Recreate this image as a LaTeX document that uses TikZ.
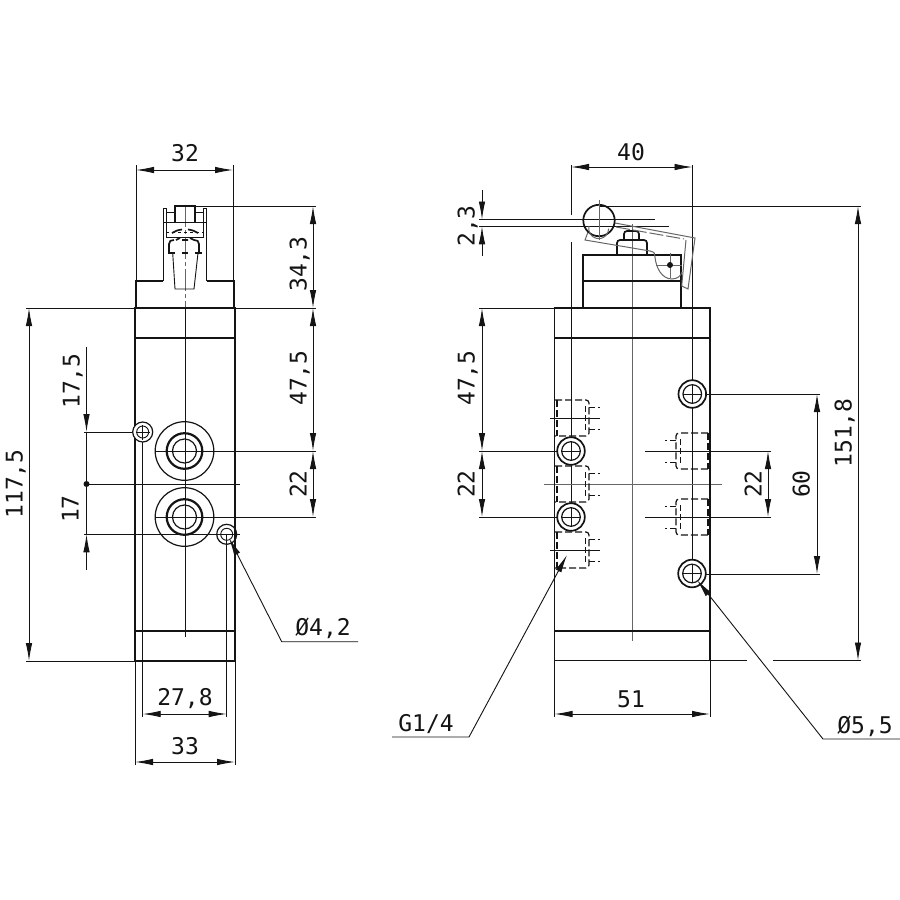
\documentclass[tikz,border=0pt]{standalone}
\usepackage{fontspec}
\setmainfont{DejaVu Sans Mono}
\usetikzlibrary{arrows.meta}
\definecolor{ink}{gray}{0.08}
\definecolor{cl}{gray}{0.4}
\tikzset{
  heavy/.style={draw=ink,line width=1.7pt},
  medium/.style={draw=ink,line width=1.2pt},
  fine/.style={draw=ink,line width=0.9pt},
  faint/.style={draw=cl,line width=1pt},
  centre/.style={draw=cl,line width=1pt},
  hid/.style={draw=ink,line width=1.2pt,dash pattern=on 7pt off 3pt},
  hidthin/.style={draw=ink,line width=0.9pt,dash pattern=on 6pt off 3pt},
  both/.style={draw=ink,line width=0.9pt,{Latex[length=18pt,width=6.5pt]}-{Latex[length=18pt,width=6.5pt]}},
  tip/.style={draw=ink,line width=0.9pt,-{Latex[length=18pt,width=6.5pt]}},
  lab/.style={font=\fontsize{23}{23}\selectfont,text=ink,inner sep=0pt,text height=17pt,text depth=0pt,anchor=center},
  vlab/.style={lab,rotate=90}
}
\newcommand{\portL}[1]{
  \draw[hid,rounded corners=3pt] (555,#1-18) -- (589,#1-18) -- (589,#1+18) -- (555,#1+18);
  \draw[hidthin] (585,#1-12) -- (585,#1+12);
  \draw[hidthin] (589,#1-11) -- (600,#1-11) (589,#1+11) -- (600,#1+11);
  \draw[hid] (557,#1-18) -- (557,#1+18);
}
\newcommand{\portR}[1]{
  \draw[hid,rounded corners=3pt] (708,#1-18) -- (676,#1-18) -- (676,#1+18) -- (708,#1+18);
  \draw[hidthin] (680,#1-12) -- (680,#1+12);
  \draw[hidthin] (676,#1-11) -- (665,#1-11) (676,#1+11) -- (665,#1+11);
  \draw[hid] (708,#1-18) -- (708,#1+18);
}
\begin{document}
\begin{tikzpicture}[x=1pt,y=-1pt]
\useasboundingbox (0,0) rectangle (900,900);
\fill[white] (0,0) rectangle (900,900);

% ---------- LEFT VIEW ----------
\draw[fine] (136,165) -- (136,281) (233,165) -- (233,281);
\draw[fine] (195,206) -- (316,206);
\draw[fine] (26,308) -- (316,308);
\draw[fine] (26,661) -- (235,661);
\draw[fine] (156,451) -- (316,451) (156,517) -- (316,517);
\draw[fine] (84,432) -- (135,432);
\draw[fine] (84,534.3) -- (240,534.3);
\draw[fine] (142.7,432) -- (142.7,717);
\draw[fine] (226.7,534.3) -- (226.7,717);
\draw[fine] (135,661) -- (135,765) (235,661) -- (235,765);
\draw[fine] (86.5,484) -- (240,484);
\draw[centre,dash pattern=on 22pt off 3pt on 4pt off 3pt] (185,205) -- (185,308);
\draw[fine] (185,308) -- (185,637);
% body
\draw[heavy] (135,661) -- (135,308) -- (235,308) -- (235,661) -- cycle;
\draw[medium] (135,338) -- (235,338) (135,631) -- (235,631);
\draw[heavy] (136,308) -- (136,281) -- (163,281);
\draw[heavy] (234,308) -- (234,281) -- (206.7,281);
\draw[fine] (163,281) -- (163,208) -- (166,208) -- (166,237);
\draw[fine] (206.7,281) -- (206.7,208) -- (203.5,208) -- (203.5,237);
% actuator
\draw[heavy] (175,223) -- (175,206) -- (195,206) -- (195,223);
\draw[fine] (166,212) -- (175,212) (195,212) -- (203.5,212);
\draw[fine] (163,222.5) -- (206.7,222.5);
\draw[fine] (166,237) -- (203.5,237);
\draw[fine] (172.7,253) -- (175,289) -- (194,289) -- (198,253);
\draw[heavy,dash pattern=on 3pt off 3pt] (166,232.5) -- (204,232.5);
\draw[heavy] (172,233) .. controls (175,231) and (178,230) .. (182,229.5);
\draw[heavy] (198,233) .. controls (195,231) and (192,230) .. (188,229.5);
\draw[heavy] (169,253) -- (169,244) .. controls (169,241) and (171,240) .. (174,240);
\draw[heavy] (199,253) -- (199,244) .. controls (199,241) and (197,240) .. (194,240);
\draw[heavy] (176,240) -- (180,238) (194,240) -- (190,238) (182,240) -- (188,240);
\draw[heavy] (168,253) -- (175,253) (182,253) -- (188,253) (195,253) -- (202,253);
% holes
\draw[medium,fill=white] (142.7,432) circle (10);
\draw[fine] (142.7,432) circle (6);
\draw[fine] (136,432) -- (150,432);
\draw[fine] (142.7,425) -- (142.7,440);
\draw[medium] (226.7,534.3) circle (10);
\draw[fine] (226.7,534.3) circle (6);
\foreach \yy in {451,517}{
  \draw[medium] (184.5,\yy) circle (29.3);
  \draw[heavy,line width=2.2pt] (184.5,\yy) circle (17.8);
  \draw[medium] (184.5,\yy) circle (12);
}
% dimensions
\draw[both] (136,170) -- (233,170);
\node[lab] (t32) at (185,153) {32};
\draw[both] (313,206) -- (313,308);
\node[vlab] (t343) at (298,264) {34,3};
\draw[both] (313,308) -- (313,451);
\node[vlab] (t475a) at (298,378) {47,5};
\draw[both] (313,451) -- (313,517);
\node[vlab] (t22a) at (298,484) {22};
\draw[both] (29,308) -- (29,661);
\node[vlab] (t1175) at (14,484) {117,5};
\draw[tip] (86.5,347) -- (86.5,432);
\node[vlab] (t175) at (71,381) {17,5};
\draw[tip] (86.5,570) -- (86.5,534.3);
\draw[fine] (86.5,432) -- (86.5,534.3);
\node[vlab] (t17) at (70,509) {17};
\fill[ink] (86.5,484) circle (3);
\draw[both] (142.7,714) -- (226.7,714);
\node[lab] (t278) at (185,697) {27,8};
\draw[both] (135,762) -- (235,762);
\node[lab] (t33) at (185,746) {33};
\draw[fine,{Latex[length=18pt,width=6.5pt]}-] (229,538) -- (281.7,641.7) -- (358,641.7);
\node[lab] (t42) at (323,627) {Ø4,2};

% ---------- RIGHT VIEW ----------
\draw[fine] (571,165) -- (571,215) (571,242) -- (571,530);
\draw[fine] (692.5,165) -- (692.5,380) (692.5,408) -- (692.5,560);
\draw[fine] (599,206) -- (861,206);
\draw[fine] (479,219.5) -- (655,219.5) (479,226.3) -- (669,226.3);
\draw[fine] (479,308) -- (711,308);
\draw[fine] (479,451) -- (571,451) (479,517) -- (571,517);
\draw[fine] (645,451) -- (771,451) (645,517) -- (771,517);
\draw[fine] (692,394) -- (820,394) (692,574) -- (820,574);
\draw[fine] (710,660.5) -- (747,660.5) (773,660.5) -- (861,660.5);
\draw[fine] (554.5,660.5) -- (554.5,717) (710,660.5) -- (710,717);
\draw[centre] (632,224) -- (632,641);
\draw[centre] (544,484) -- (722,484);
% body
\draw[heavy] (554.5,660.5) -- (554.5,308) -- (710,308) -- (710,660.5) -- cycle;
\draw[medium] (554.5,338) -- (710,338) (554.5,631) -- (710,631);
\draw[heavy] (583,308) -- (583,255) -- (681,255) -- (681,308);
\draw[medium] (583,281) -- (681,281);
\draw[heavy,rounded corners=3pt] (617,255) -- (617,240) -- (647,240) -- (647,255);
\draw[heavy,rounded corners=3pt] (624,240) -- (624,231) -- (639,231) -- (639,240);
% lever
\draw[faint] (615,223) -- (695,238) -- (688,289) -- (681.7,286) -- (686,240);
\draw[faint,dash pattern=on 14pt off 3pt] (616,227) -- (684,239);
\draw[faint] (588,232) -- (585,240) -- (650,251) .. controls (655,252) and (655,254) .. (655,257) .. controls (656,268) and (662,279) .. (672,279) .. controls (677,279) and (681,276) .. (682,272);
\draw[faint] (656,265) -- (682,265);
\draw[faint] (670,253) -- (670,278);
\fill[ink] (670,265) circle (3);
% roller
\draw[heavy] (599,220.5) circle (15.7);
\draw[faint] (589,226) arc (195:0:10);
\draw[faint] (599,200) -- (599,240);
% hidden ports
\portL{418}\portL{484}\portL{550}
\portR{451}\portR{517}
\draw[fine] (550,418) -- (600,418) (550,550) -- (600,550);
% holes
\foreach \xx/\yy in {692.3/394,692/573.5,571/451,571/517}{
  \draw[heavy,fill=white] (\xx,\yy) circle (13.8);
  \draw[medium] (\xx,\yy) circle (9.3);
  \draw[fine] (\xx-9,\yy) -- (\xx+9,\yy) (\xx,\yy-9) -- (\xx,\yy+9);
}
% dimensions
\draw[both] (571,167) -- (692.5,167);
\node[lab] (t40) at (631,152) {40};
\draw[tip] (482,190) -- (482,219.5);
\draw[tip] (482,256) -- (482,226.3);
\node[vlab] (t23) at (466,226) {2,3};
\draw[both] (482,308) -- (482,451);
\node[vlab] (t475b) at (466,378) {47,5};
\draw[both] (482,451) -- (482,517);
\node[vlab] (t22b) at (466,484) {22};
\draw[both] (768,451) -- (768,517);
\node[vlab] (t22c) at (753,484) {22};
\draw[both] (817,394) -- (817,574);
\node[vlab] (t60) at (801,484) {60};
\draw[both] (858,206) -- (858,660.5);
\node[vlab] (t1518) at (843,433) {151,8};
\draw[both] (554.5,714) -- (710,714);
\node[lab] (t51) at (631,699) {51};
\draw[fine,{Latex[length=18pt,width=6.5pt]}-] (567,555) -- (469,737) -- (392,737);
\node[lab] (tg) at (426,723) {G1/4};
\draw[fine,{Latex[length=18pt,width=6.5pt]}-] (697,580) -- (823,739) -- (900,739);
\node[lab] (t55) at (865,725) {Ø5,5};
\end{tikzpicture}
\end{document}
